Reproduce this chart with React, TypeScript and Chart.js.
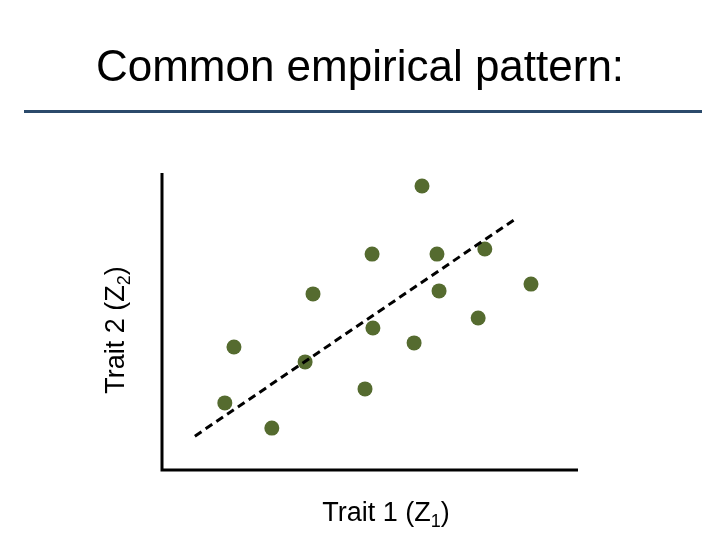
import React, { useEffect, useRef } from "react";
import { Chart, registerables } from "chart.js";

Chart.register(...registerables);

// Trait values (arbitrary 0-100 units)
const trait1: number[] = [62.5, 50.5, 66.1, 77.6, 36.3, 66.6, 88.7, 50.7, 76.0, 17.3, 60.6, 34.4, 48.8, 15.1, 26.4];
const trait2: number[] = [95.6, 72.7, 72.7, 74.4, 59.3, 60.3, 62.6, 47.8, 51.2, 41.4, 42.8, 36.4, 27.3, 22.6, 14.1];

// Dashed trend line end points
const trendX: number[] = [7.9, 84.6];
const trendY: number[] = [11.4, 84.2];

const titleText = "Common empirical pattern:";
const xLabelMain = "Trait 1 (Z";
const xLabelSub = "1";
const yLabelMain = "Trait 2 (Z";
const yLabelSub = "2";

const FONT = "'Liberation Sans', Arial, sans-serif";

function drawSubLabel(ctx: CanvasRenderingContext2D, main: string, sub: string, size: number) {
  ctx.font = `${size}px ${FONT}`;
  const wMain = ctx.measureText(main).width;
  const wClose = ctx.measureText(")").width;
  ctx.font = `${Math.round(size * 0.68)}px ${FONT}`;
  const wSub = ctx.measureText(sub).width;
  const total = wMain + wSub + wClose;
  let x = -total / 2;
  ctx.textAlign = "left";
  ctx.textBaseline = "alphabetic";
  ctx.font = `${size}px ${FONT}`;
  ctx.fillText(main, x, 0);
  x += wMain;
  ctx.font = `${Math.round(size * 0.68)}px ${FONT}`;
  ctx.fillText(sub, x, size * 0.22);
  x += wSub;
  ctx.font = `${size}px ${FONT}`;
  ctx.fillText(")", x, 0);
}

const decorPlugin = {
  id: "decor",
  beforeDatasetsDraw(chart: any) {
    const { ctx, chartArea } = chart;
    ctx.save();
    ctx.strokeStyle = "#000";
    ctx.lineWidth = 3;
    ctx.beginPath();
    ctx.moveTo(chartArea.left, chartArea.top);
    ctx.lineTo(chartArea.left, chartArea.bottom + 1.5);
    ctx.moveTo(chartArea.left - 1.5, chartArea.bottom);
    ctx.lineTo(chartArea.right, chartArea.bottom);
    ctx.stroke();
    ctx.restore();
  },
  afterDraw(chart: any) {
    const { ctx } = chart;
    ctx.save();
    ctx.fillStyle = "#000";
    ctx.font = `44px ${FONT}`;
    ctx.textAlign = "center";
    ctx.textBaseline = "alphabetic";
    ctx.fillText(titleText, 360, 81);
    ctx.strokeStyle = "#2B4A6B";
    ctx.lineWidth = 3;
    ctx.beginPath();
    ctx.moveTo(24, 111.5);
    ctx.lineTo(702, 111.5);
    ctx.stroke();
    ctx.save();
    ctx.translate(386, 521);
    drawSubLabel(ctx, xLabelMain, xLabelSub, 27);
    ctx.restore();
    ctx.save();
    ctx.translate(124, 330);
    ctx.rotate(-Math.PI / 2);
    drawSubLabel(ctx, yLabelMain, yLabelSub, 27);
    ctx.restore();
    ctx.restore();
  },
};

export default function App() {
  const ref = useRef<HTMLCanvasElement | null>(null);
  useEffect(() => {
    if (!ref.current) return;
    const points = trait1.map((x, i) => ({ x, y: trait2[i] }));
    const trend = trendX.map((x, i) => ({ x, y: trendY[i] }));
    const chart = new Chart(ref.current, {
      type: "scatter",
      data: {
        datasets: [
          {
            type: "line",
            data: trend,
            borderColor: "#000",
            borderWidth: 3,
            borderDash: [8, 5],
            pointRadius: 0,
            fill: false,
            order: 0,
            clip: false,
          } as any,
          {
            data: points,
            backgroundColor: "#556B2F",
            borderWidth: 0,
            pointRadius: 7.5,
            order: 1,
            clip: false,
          } as any,
        ],
      },
      options: {
        animation: false,
        responsive: false,
        devicePixelRatio: 1,
        layout: { padding: { left: 162, right: 142, top: 173, bottom: 70 } },
        plugins: { legend: { display: false }, tooltip: { enabled: false }, title: { display: false } },
        scales: {
          x: { type: "linear", min: 0, max: 100, display: false },
          y: { type: "linear", min: 0, max: 100, display: false },
        },
      },
      plugins: [decorPlugin],
    });
    return () => chart.destroy();
  }, []);
  return (
    <div style={{ position: "absolute", left: 0, top: 0, width: 720, height: 540, background: "#fff" }}>
      <canvas ref={ref} width={720} height={540} />
    </div>
  );
}
